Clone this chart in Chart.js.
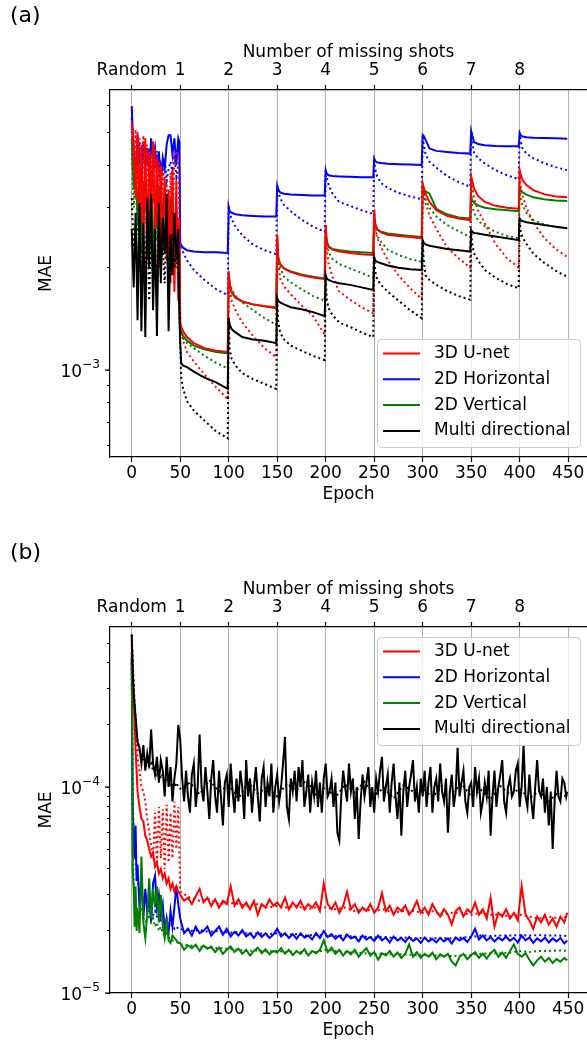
<!DOCTYPE html>
<html>
<head>
<meta charset="utf-8">
<script src="https://cdn.jsdelivr.net/npm/chart.js@4.4.0/dist/chart.umd.min.js"></script>
<style>
  html, body { margin: 0; padding: 0; background: #fff; overflow: hidden; }
  canvas { position: absolute; left: 0; }
  #chartA { top: 0; }
  #chartB { top: 537px; }
</style>
</head>
<body>
<canvas id="chartA" width="587" height="537"></canvas>
<canvas id="chartB" width="587" height="509"></canvas>
<script>
// legend / shared axes
const seriesNames = ['3D U-net', '2D Horizontal', '2D Vertical', 'Multi directional'];
const seriesColors = ['#ff0000', '#0000ff', '#008000', '#000000'];
const epochTicks = [0, 50, 100, 150, 200, 250, 300, 350, 400, 450];
const shotTicks = [0, 50, 100, 150, 200, 250, 300, 350, 400];
const shotLabels = ['Random', '1', '2', '3', '4', '5', '6', '7', '8'];

// ---- panel (a), values in units of 1e-3 ----
const epochsA = [0,2,4,6,8,10,12,14,16,18,20,22,24,26,28,30,32,34,36,38,40,42,44,46,48,49,
  50,51,53,57,64,75,87,99,
  100,101,103,107,114,125,137,149,
  150,151,153,157,164,175,187,199,
  200,201,203,207,214,225,237,249,
  250,251,253,257,264,275,287,299,
  300,301,303,307,314,325,337,349,
  350,351,353,357,364,375,387,399,
  400,401,403,407,414,425,437,449];

const unetA = [5.3,4.5,3.2,5.0,2.6,4.6,2.3,4.8,2.1,4.4,2.9,4.7,2.5,4.2,2.0,4.0,2.4,3.7,2.1,3.4,1.8,3.9,1.7,3.6,1.6,2.8,
  1.37,1.34,1.30,1.25,1.20,1.16,1.14,1.13,
  1.95,1.80,1.70,1.64,1.59,1.56,1.54,1.52,
  2.5,2.15,2.05,1.99,1.94,1.90,1.87,1.85,
  2.67,2.40,2.30,2.26,2.23,2.21,2.19,2.18,
  2.96,2.70,2.60,2.54,2.50,2.48,2.46,2.44,
  3.54,3.45,3.30,3.12,2.95,2.84,2.79,2.76,
  3.7,3.6,3.42,3.25,3.12,3.04,3.0,2.98,
  3.87,3.75,3.62,3.50,3.38,3.29,3.24,3.22];
const unetDotA = [5.4,3.9,5.1,3.0,4.8,2.8,4.9,3.3,4.6,2.6,4.3,3.1,4.5,2.7,4.1,2.4,3.9,2.9,3.6,2.2,3.8,2.6,4.2,4.4,4.2,3.0,
  1.37,1.3,1.22,1.13,1.06,0.97,0.89,0.82,
  1.95,1.75,1.6,1.50,1.38,1.26,1.16,1.09,
  2.5,2.1,1.86,1.76,1.67,1.55,1.44,1.27,
  2.67,2.3,2.05,1.88,1.70,1.61,1.53,1.47,
  2.96,2.6,2.45,2.3,2.1,1.9,1.74,1.62,
  3.54,3.35,3.1,2.85,2.6,2.3,2.13,2.0,
  3.7,3.45,3.2,2.95,2.7,2.35,2.13,2.0,
  3.87,3.5,3.25,3.0,2.72,2.45,2.27,2.15];
const horizA = [5.97,4.2,3.9,4.9,4.3,3.6,4.7,4.0,4.5,3.7,4.8,4.1,4.5,3.8,4.4,3.5,4.2,3.9,4.6,4.9,4.9,4.3,4.8,4.0,4.8,4.7,
  2.36,2.33,2.29,2.25,2.23,2.22,2.22,2.21,
  3.0,2.93,2.9,2.87,2.85,2.84,2.83,2.83,
  3.48,3.40,3.33,3.30,3.28,3.27,3.26,3.26,
  3.87,3.78,3.74,3.72,3.71,3.70,3.69,3.69,
  4.19,4.12,4.08,4.06,4.04,4.03,4.02,4.01,
  4.91,4.88,4.75,4.48,4.41,4.38,4.35,4.33,
  5.04,4.9,4.68,4.62,4.58,4.56,4.55,4.55,
  4.98,4.90,4.86,4.84,4.82,4.81,4.80,4.79];
const horizDotA = [5.5,4.6,3.7,4.3,4.7,3.9,4.4,3.6,4.2,4.5,3.7,4.3,3.9,4.4,3.6,4.0,3.7,4.2,3.6,3.9,4.1,3.8,4.3,3.7,4.0,3.9,
  2.36,2.30,2.22,2.10,1.97,1.84,1.73,1.66,
  3.0,2.9,2.78,2.64,2.49,2.34,2.25,2.19,
  3.48,3.35,3.2,3.06,2.93,2.77,2.64,2.55,
  3.87,3.7,3.5,3.3,3.12,3.04,2.95,2.88,
  4.19,3.9,3.72,3.55,3.43,3.32,3.24,3.18,
  4.91,4.6,4.3,4.1,3.94,3.72,3.57,3.46,
  5.04,4.7,4.35,4.2,4.05,3.87,3.74,3.64,
  4.98,4.7,4.48,4.33,4.2,4.06,3.95,3.87];
const vertA = [4.8,3.4,4.2,2.7,3.9,2.2,3.6,2.9,3.3,2.4,3.8,2.0,3.1,2.6,3.5,1.9,3.0,2.3,2.8,2.0,3.2,2.4,2.7,2.1,2.5,2.2,
  1.32,1.30,1.26,1.22,1.18,1.15,1.13,1.12,
  1.9,1.78,1.69,1.63,1.59,1.56,1.54,1.53,
  2.4,2.12,2.04,1.99,1.95,1.91,1.88,1.86,
  2.55,2.38,2.31,2.27,2.25,2.23,2.22,2.21,
  2.8,2.66,2.59,2.55,2.52,2.50,2.48,2.46,
  3.4,3.36,3.35,3.3,2.98,2.87,2.81,2.79,
  3.25,3.15,3.10,3.05,3.0,2.97,2.95,2.93,
  3.45,3.38,3.33,3.28,3.22,3.18,3.15,3.14];
const vertDotA = [4.5,3.0,3.8,2.5,3.5,2.4,3.2,2.7,3.0,2.3,3.4,2.1,2.9,2.4,3.1,2.0,2.7,2.2,2.6,1.9,2.9,2.3,2.5,2.0,2.4,2.0,
  1.32,1.28,1.24,1.2,1.16,1.10,1.05,1.01,
  1.9,1.8,1.72,1.65,1.58,1.5,1.42,1.36,
  2.4,2.15,2.0,1.88,1.81,1.73,1.65,1.60,
  2.55,2.35,2.22,2.12,2.05,1.99,1.93,1.87,
  2.8,2.6,2.48,2.38,2.26,2.18,2.12,2.08,
  3.4,3.3,3.18,3.0,2.83,2.67,2.56,2.46,
  3.25,3.05,2.9,2.75,2.65,2.55,2.48,2.44,
  3.45,3.2,3.05,2.9,2.76,2.68,2.64,2.61];
const multiA = [2.6,1.75,2.9,1.4,3.1,1.3,2.7,1.25,3.2,2.0,3.3,1.5,2.6,1.26,3.1,1.8,2.8,2.2,3.3,1.3,2.5,1.9,2.9,2.1,2.6,1.5,
  1.2,1.05,1.03,1.02,0.99,0.95,0.92,0.88,
  1.42,1.36,1.32,1.29,1.25,1.23,1.22,1.2,
  1.63,1.6,1.58,1.56,1.53,1.51,1.48,1.44,
  1.9,1.86,1.84,1.82,1.80,1.78,1.75,1.72,
  2.15,2.1,2.08,2.06,2.03,2.0,1.98,1.97,
  2.41,2.37,2.34,2.32,2.30,2.27,2.25,2.23,
  2.58,2.55,2.53,2.52,2.50,2.47,2.44,2.41,
  2.79,2.76,2.74,2.72,2.70,2.67,2.64,2.61];
const multiDotA = [3.2,2.3,2.7,1.9,2.8,1.7,2.5,2.0,2.9,1.6,2.6,1.9,2.4,1.6,2.7,2.1,2.3,1.8,2.8,1.7,2.2,2.5,2.0,2.3,1.9,1.6,
  1.2,0.95,0.88,0.81,0.76,0.71,0.66,0.63,
  1.42,1.15,1.08,1.03,0.98,0.94,0.91,0.88,
  1.63,1.4,1.29,1.23,1.18,1.14,1.10,1.07,
  1.9,1.62,1.52,1.45,1.38,1.34,1.29,1.25,
  2.15,1.95,1.85,1.78,1.70,1.60,1.50,1.42,
  2.41,2.1,1.9,1.84,1.78,1.71,1.65,1.61,
  2.58,2.35,2.2,2.1,1.97,1.87,1.79,1.74,
  2.79,2.55,2.45,2.35,2.2,2.07,1.96,1.88];
const yTicksA = [6e-4, 7e-4, 8e-4, 9e-4, 1e-3, 2e-3, 3e-3, 4e-3, 5e-3, 6e-3];

// ---- panel (b), values in units of 1e-5 ----
const epochsB = [0,1,2,3,4,5,6,8,10,12,14,16,18,20,22,24,26,28,30,32,34,36,38,40,42,44,46,48,
  50,54,58,62,66,70,74,78,82,86,
  90,94,98,102,106,110,114,118,122,126,
  130,134,138,142,146,150,154,158,162,166,
  170,174,178,182,186,190,194,198,202,206,
  210,214,218,222,226,230,234,238,242,246,
  250,254,258,262,266,270,274,278,282,286,
  290,294,298,302,306,310,314,318,322,326,
  330,334,338,342,346,350,354,358,362,366,
  370,374,378,382,386,390,394,398,402,406,
  410,414,418,422,426,430,434,438,442,446,449];
const epochsBFine = [0,1,2,3,4,5,6,8,10,12,14,16,18,20,22,24,26,28,30,32,34,36,38,40,42,44,46,48,
  50,52,54,56,58,60,62,64,66,68, 70,72,74,76,78,80,82,84,86,88,
  90,92,94,96,98,100,102,104,106,108, 110,112,114,116,118,120,122,124,126,128,
  130,132,134,136,138,140,142,144,146,148, 150,152,154,156,158,160,162,164,166,168,
  170,172,174,176,178,180,182,184,186,188, 190,192,194,196,198,200,202,204,206,208,
  210,212,214,216,218,220,222,224,226,228, 230,232,234,236,238,240,242,244,246,248,
  250,252,254,256,258,260,262,264,266,268, 270,272,274,276,278,280,282,284,286,288,
  290,292,294,296,298,300,302,304,306,308, 310,312,314,316,318,320,322,324,326,328,
  330,332,334,336,338,340,342,344,346,348, 350,352,354,356,358,360,362,364,366,368,
  370,372,374,376,378,380,382,384,386,388, 390,392,394,396,398,400,402,404,406,408,
  410,412,414,416,418,420,422,424,426,428, 430,432,434,436,438,440,442,444,446,448, 449];
const epochsBDot = [0,1,2,3,4,5,6,8,10,12,14,16,18,20,22,24,26,28,30,32,34,36,38,40,42,44,46,48,
  50,60,70,80,90,100,110,120,130,140,
  150,160,170,180,190,200,210,220,230,240,
  250,260,270,280,290,300,310,320,330,340,
  350,360,370,380,390,400,410,420,430,440,450];

const unetB = [50,38,27,20,15,12,9.5,8,7,6.8,5.8,5.5,5,4.6,4.8,4.1,4.3,3.8,4.0,3.6,3.8,3.4,3.6,3.2,3.4,3.1,3.3,3.1,
  3.0,2.8,2.9,2.7,2.95,3.2,2.75,2.9,2.65,2.85,
  2.6,2.8,2.7,3.3,2.65,2.85,2.6,2.75,2.55,2.8,
  2.4,2.7,2.6,2.85,2.65,2.75,2.6,2.9,2.55,2.75,
  2.6,2.8,2.55,2.7,2.6,2.75,2.5,3.4,2.7,2.55,
  2.75,2.45,2.65,3.1,2.55,2.7,2.45,2.6,2.5,2.7,
  2.45,2.6,3.05,2.5,2.65,2.4,2.6,2.5,2.65,2.4,
  2.55,2.8,2.45,2.6,2.4,2.7,2.5,2.35,2.55,2.4,
  2.15,2.5,2.6,2.35,2.55,2.45,2.75,2.4,2.55,2.3,
  2.9,2.1,2.45,2.35,2.55,2.3,2.45,2.25,3.3,2.4,
  2.25,2.05,2.35,2.2,2.4,2.15,2.3,2.1,2.35,2.2,2.45];
const horizB = [45,8,5.5,4.5,6.5,3.5,4.2,2.6,3.6,2.3,3.2,2.5,2.9,2.2,3.4,3.7,2.6,3.0,2.4,2.7,2.0,2.3,1.95,2.5,2.1,2.6,3.3,2.7,
  2.3,1.95,2.05,1.9,2.1,1.95,2.0,2.1,1.9,2.0,
  2.1,1.92,2.05,1.88,1.98,1.9,2.02,1.88,1.95,1.85,
  1.97,1.87,1.95,1.85,1.92,2.05,1.88,1.95,1.85,1.93,
  1.83,1.95,1.86,1.9,1.82,1.95,1.85,2.0,1.87,1.93,
  1.83,1.9,1.8,1.92,1.84,1.88,1.78,1.9,1.82,1.87,
  1.79,1.9,1.8,1.86,1.76,1.88,1.8,1.85,1.77,1.87,
  1.79,1.84,1.75,1.86,1.78,1.83,1.76,1.85,1.78,1.84,
  1.74,1.86,1.8,1.85,1.77,1.88,2.05,1.82,1.9,1.8,
  1.87,1.78,1.86,1.8,1.88,1.79,1.85,1.76,1.9,1.8,
  1.86,1.75,1.84,1.78,1.86,1.76,1.84,1.78,1.85,1.74,1.8];
const vertB = [42,4.0,3.2,2.1,3.3,2.0,2.6,1.95,4.6,2.2,1.85,2.4,3.6,2.3,3.2,2.6,3.3,2.2,3.0,2.1,1.85,2.3,1.8,1.75,1.9,1.85,1.8,1.75,
  1.75,1.62,1.7,1.65,1.72,1.6,1.7,1.64,1.68,1.58,
  1.66,1.55,1.62,1.68,1.58,1.64,1.55,1.62,1.52,1.6,
  1.66,1.56,1.63,1.54,1.6,1.57,1.65,1.55,1.62,1.53,
  1.6,1.55,1.63,1.52,1.6,1.56,1.62,1.8,1.58,1.66,
  1.55,1.62,1.52,1.6,1.54,1.62,1.5,1.58,1.65,1.52,
  1.58,1.45,1.56,1.52,1.6,1.5,1.57,1.48,1.55,1.72,
  1.5,1.58,1.48,1.55,1.5,1.57,1.46,1.54,1.5,1.55,
  1.42,1.36,1.5,1.55,1.46,1.53,1.58,1.48,1.55,1.47,
  1.56,1.62,1.5,1.57,1.48,1.6,1.72,1.55,1.5,1.56,
  1.45,1.36,1.44,1.5,1.42,1.48,1.4,1.46,1.42,1.48,1.44];
const multiB = [55,36,29,25,22,19,16.5,15.5,13,16,12,14.5,12.5,19,13,11.5,14,10.5,13.5,12,9,14,10,12.5,8.5,11,13,20,
  17,11,8.5,12,9,7.5,11.5,13,8,10, 18,10,8.5,12.5,9.5,7,11,13.5,9,7.5,
  12,9,6.5,10.5,11.5,8,13,9.5,7.5,11, 8.5,12,10,7,13.5,9,11,7.5,10,12.5,
  9,6.8,11,12.5,8,10.5,9,13,7.5,10, 11.5,8.5,10,13,17.5,8,7,11,9.5,12,
  8.5,12.5,10,13.5,8,9.5,11.5,7.5,10.5,9, 12,8,10.5,7.5,11,13,9,9.5,11,8,
  10.5,6,5.5,9,12,10,8.5,13,9.5,11, 7,10,5.6,8.5,11.5,9,10.5,12.5,8,10,
  7.5,11,9.5,12,14,8.5,10,11.5,7.5,10.5, 13,9,7,10.5,5.8,9.5,12,8,10,11.5,
  13.5,8.5,10,7.5,11,9,12,8,10.5,12.5, 7.5,10,11,8.5,13,9.5,8.5,11,6,9.5,
  11.5,8,9.5,15.5,9,10.5,12,8.5,7.5,10, 10.5,8,12.5,9.5,11,7.5,8.5,10.5,9,12,
  5.8,9,12,8,10,11.5,13.5,8.5,7.5,10, 11,9,9.5,12,13,8,10,16,9,8,
  11.5,8.5,7,10,13.5,9.5,9,11,7.5,10, 6.5,9.5,5,8.5,12,9,8.5,11,10.5,9, 9.5];

const unetDotB = [52,42,32,25,20,16.5,14,12,10,9.5,8.5,7,6,5.2,4.5,7.5,4.2,8,4.5,7.8,4,8.2,4.3,7.5,4.5,8.5,5,8,
  3.1,2.9,2.8,2.85,2.7,2.75,2.7,2.65,2.7,2.6,
  2.65,2.6,2.65,2.55,2.6,2.6,2.55,2.6,2.5,2.55,
  2.5,2.55,2.45,2.5,2.5,2.45,2.5,2.4,2.45,2.45,
  2.4,2.45,2.4,2.4,2.35,2.4,2.35,2.3,2.35,2.3,2.35];
const horizDotB = [40,9,6,5,4.5,4,3.6,3.2,3.0,2.8,2.7,2.6,2.5,2.45,2.4,2.5,2.35,2.3,2.25,2.3,2.2,2.15,2.2,2.1,2.15,2.05,2.1,2.05,
  2.05,2.0,2.02,1.98,2.0,1.96,1.98,1.94,1.95,1.93,
  1.95,1.92,1.93,1.9,1.92,1.9,1.89,1.9,1.87,1.88,
  1.86,1.87,1.85,1.86,1.84,1.85,1.84,1.85,1.84,1.86,
  1.87,1.9,1.89,1.9,1.9,1.91,1.9,1.91,1.9,1.9,1.89];
const vertDotB = [42,5,3.5,3.0,2.8,2.6,2.5,2.4,2.6,2.3,2.2,2.3,2.4,2.2,2.3,2.1,2.2,2.0,2.1,1.95,1.9,1.95,1.85,1.85,1.8,1.8,1.78,1.75,
  1.72,1.7,1.68,1.66,1.65,1.64,1.62,1.6,1.61,1.59,
  1.6,1.58,1.59,1.57,1.58,1.62,1.6,1.58,1.57,1.56,
  1.55,1.55,1.54,1.54,1.53,1.53,1.52,1.52,1.51,1.52,
  1.53,1.55,1.56,1.56,1.57,1.6,1.58,1.6,1.6,1.61,1.6];
const multiDotB = [55,40,30,25,21,18.5,17,15,14,13.5,13,13.5,12.5,13,12,12.5,11.5,12,11,11.5,10.5,11,10.5,10,10.5,10,10.5,10,
  9.8,10.5,9.2,10.8,9.5,10.2,8.8,10.5,9.3,10,
  9,10.4,9.6,10.8,9.2,10,8.9,10.3,9.4,10.6,
  9.1,9.9,8.8,10.2,9.5,9.9,8.9,10.1,9.3,10.4,
  9,9.7,8.7,10.1,9.2,9.8,8.8,9.6,8.5,9.4,8.9];
const yTicksB = [1e-5, 2e-5, 3e-5, 4e-5, 5e-5, 6e-5, 7e-5, 8e-5, 9e-5, 1e-4, 2e-4, 3e-4, 4e-4, 5e-4];

Chart.defaults.font.family = "'DejaVu Sans'";
Chart.defaults.font.size = 17;
Chart.defaults.color = '#000';

function toPoints(xs, ys, unit) {
  const n = Math.min(xs.length, ys.length);
  const pts = [];
  for (let i = 0; i < n; i++) pts.push({ x: xs[i], y: ys[i] * unit });
  return pts;
}

function line(xs, ys, unit, color, dotted) {
  return {
    data: toPoints(xs, ys, unit),
    borderColor: color,
    borderWidth: 2,
    borderDash: dotted ? [2, 3] : [],
    pointRadius: 0,
    tension: 0,
    fill: false
  };
}

function isDecade(v) {
  const e = Math.log10(v);
  return Math.abs(e - Math.round(e)) < 1e-9;
}

// legend box drawn inside the plot, like matplotlib's
const boxLegend = {
  id: 'boxLegend',
  afterDraw(chart, args, opts) {
    const ctx = chart.ctx;
    const x = opts.x, y = opts.y, w = 203, h = 108;
    ctx.save();
    ctx.beginPath();
    ctx.roundRect(x + 0.5, y + 0.5, w, h, 4);
    ctx.fillStyle = 'rgba(255,255,255,0.8)';
    ctx.fill();
    ctx.strokeStyle = '#cccccc';
    ctx.lineWidth = 1;
    ctx.stroke();
    ctx.font = "17px 'DejaVu Sans'";
    ctx.textBaseline = 'middle';
    seriesNames.forEach((name, i) => {
      const ry = y + 14.5 + i * 25.8;
      ctx.strokeStyle = seriesColors[i];
      ctx.lineWidth = 2;
      ctx.beginPath();
      ctx.moveTo(x + 6, ry);
      ctx.lineTo(x + 43, ry);
      ctx.stroke();
      ctx.fillStyle = '#000';
      ctx.fillText(name, x + 57, ry);
    });
    ctx.restore();
  }
};

// 10^n labels with a raised exponent, and longer major ticks
const decadeLabels = {
  id: 'decadeLabels',
  afterDraw(chart) {
    const ctx = chart.ctx, s = chart.scales.y;
    ctx.save();
    ctx.fillStyle = '#000';
    ctx.strokeStyle = '#000';
    ctx.lineWidth = 1.2;
    ctx.textBaseline = 'alphabetic';
    ctx.textAlign = 'right';
    s.ticks.forEach(t => {
      if (!isDecade(t.value)) return;
      const py = s.getPixelForValue(t.value);
      ctx.beginPath();
      ctx.moveTo(s.right - 5, py);
      ctx.lineTo(s.right, py);
      ctx.stroke();
      const e = Math.round(Math.log10(t.value));
      const exp = (e < 0 ? '\u2212' : '') + Math.abs(e);
      ctx.font = "12.2px 'DejaVu Sans'";
      const we = ctx.measureText(exp).width;
      ctx.fillText(exp, 100, py - 1.7);
      ctx.font = "17px 'DejaVu Sans'";
      ctx.fillText('10', 100 - we, py + 6.7);
    });
    ctx.restore();
  }
};

const panelTag = {
  id: 'panelTag',
  afterDraw(chart, args, opts) {
    const ctx = chart.ctx;
    ctx.save();
    ctx.font = "22px 'DejaVu Sans'";
    ctx.fillStyle = '#000';
    ctx.textBaseline = 'alphabetic';
    ctx.fillText(opts.text, 10, 22);
    ctx.restore();
  }
};

function makePanel(id, tag, datasets, yMin, yMax, yTicks, bottomH, epochPad, legendY) {
  return new Chart(document.getElementById(id), {
    type: 'line',
    data: { datasets: datasets },
    options: {
      responsive: false,
      animation: false,
      layout: { padding: 0 },
      plugins: {
        legend: { display: false },
        tooltip: { enabled: false },
        boxLegend: { x: 377, y: legendY },
        panelTag: { text: tag }
      },
      scales: {
        x: {
          type: 'linear', position: 'bottom', min: -22.4, max: 469.4,
          afterBuildTicks: s => { s.ticks = epochTicks.map(v => ({ value: v })); },
          afterFit: s => { s.height = bottomH; },
          ticks: { autoSkip: false, maxRotation: 0, padding: 1, callback: v => String(v) },
          grid: { color: '#b0b0b0', lineWidth: 1, tickColor: '#000', tickWidth: 1.2, tickLength: 5 },
          border: { color: '#000', width: 1.2 },
          title: { display: true, text: 'Epoch', padding: { top: 0, bottom: epochPad } }
        },
        xTop: {
          type: 'linear', position: 'top', min: -22.4, max: 469.4,
          afterBuildTicks: s => { s.ticks = shotTicks.map(v => ({ value: v })); },
          afterFit: s => { s.height = 90; },
          ticks: { autoSkip: false, maxRotation: 0, padding: 4, callback: (v, i) => shotLabels[i] },
          grid: { drawOnChartArea: false, tickColor: '#000', tickWidth: 1.2, tickLength: 5 },
          border: { color: '#000', width: 1.2 },
          title: { display: true, text: 'Number of missing shots', padding: { top: 42, bottom: 0 } }
        },
        y: {
          type: 'logarithmic', position: 'left', min: yMin, max: yMax,
          afterBuildTicks: s => { s.ticks = yTicks.map(v => ({ value: v })); },
          afterFit: s => { s.width = 110; },
          ticks: { autoSkip: false, padding: 5, callback: () => '' },
          grid: { drawOnChartArea: false, tickColor: '#000', tickWidth: 1, tickLength: 3 },
          border: { color: '#000', width: 1.2 },
          title: { display: true, text: 'MAE', padding: { top: 36, bottom: 0 } }
        }
      }
    },
    plugins: [boxLegend, decadeLabels, panelTag]
  });
}

// first dataset is drawn on top
const dataA = [
  line(epochsA, multiA, 1e-3, '#000000', false),
  line(epochsA, multiDotA, 1e-3, '#000000', true),
  line(epochsA, unetA, 1e-3, '#ff0000', false),
  line(epochsA, unetDotA, 1e-3, '#ff0000', true),
  line(epochsA, vertA, 1e-3, '#008000', false),
  line(epochsA, vertDotA, 1e-3, '#008000', true),
  line(epochsA, horizA, 1e-3, '#0000ff', false),
  line(epochsA, horizDotA, 1e-3, '#0000ff', true)
];
const dataB = [
  line(epochsBFine, multiB, 1e-5, '#000000', false),
  line(epochsBDot, multiDotB, 1e-5, '#000000', true),
  line(epochsB, unetB, 1e-5, '#ff0000', false),
  line(epochsBDot, unetDotB, 1e-5, '#ff0000', true),
  line(epochsB, vertB, 1e-5, '#008000', false),
  line(epochsBDot, vertDotB, 1e-5, '#008000', true),
  line(epochsB, horizB, 1e-5, '#0000ff', false),
  line(epochsBDot, horizDotB, 1e-5, '#0000ff', true)
];

makePanel('chartA', '(a)', dataA, 5.55e-4, 6.66e-3, yTicksA, 80, 32, 339);
makePanel('chartB', '(b)', dataB, 1e-5, 5.98e-4, yTicksB, 53, 5, 100);
</script>
</body>
</html>
